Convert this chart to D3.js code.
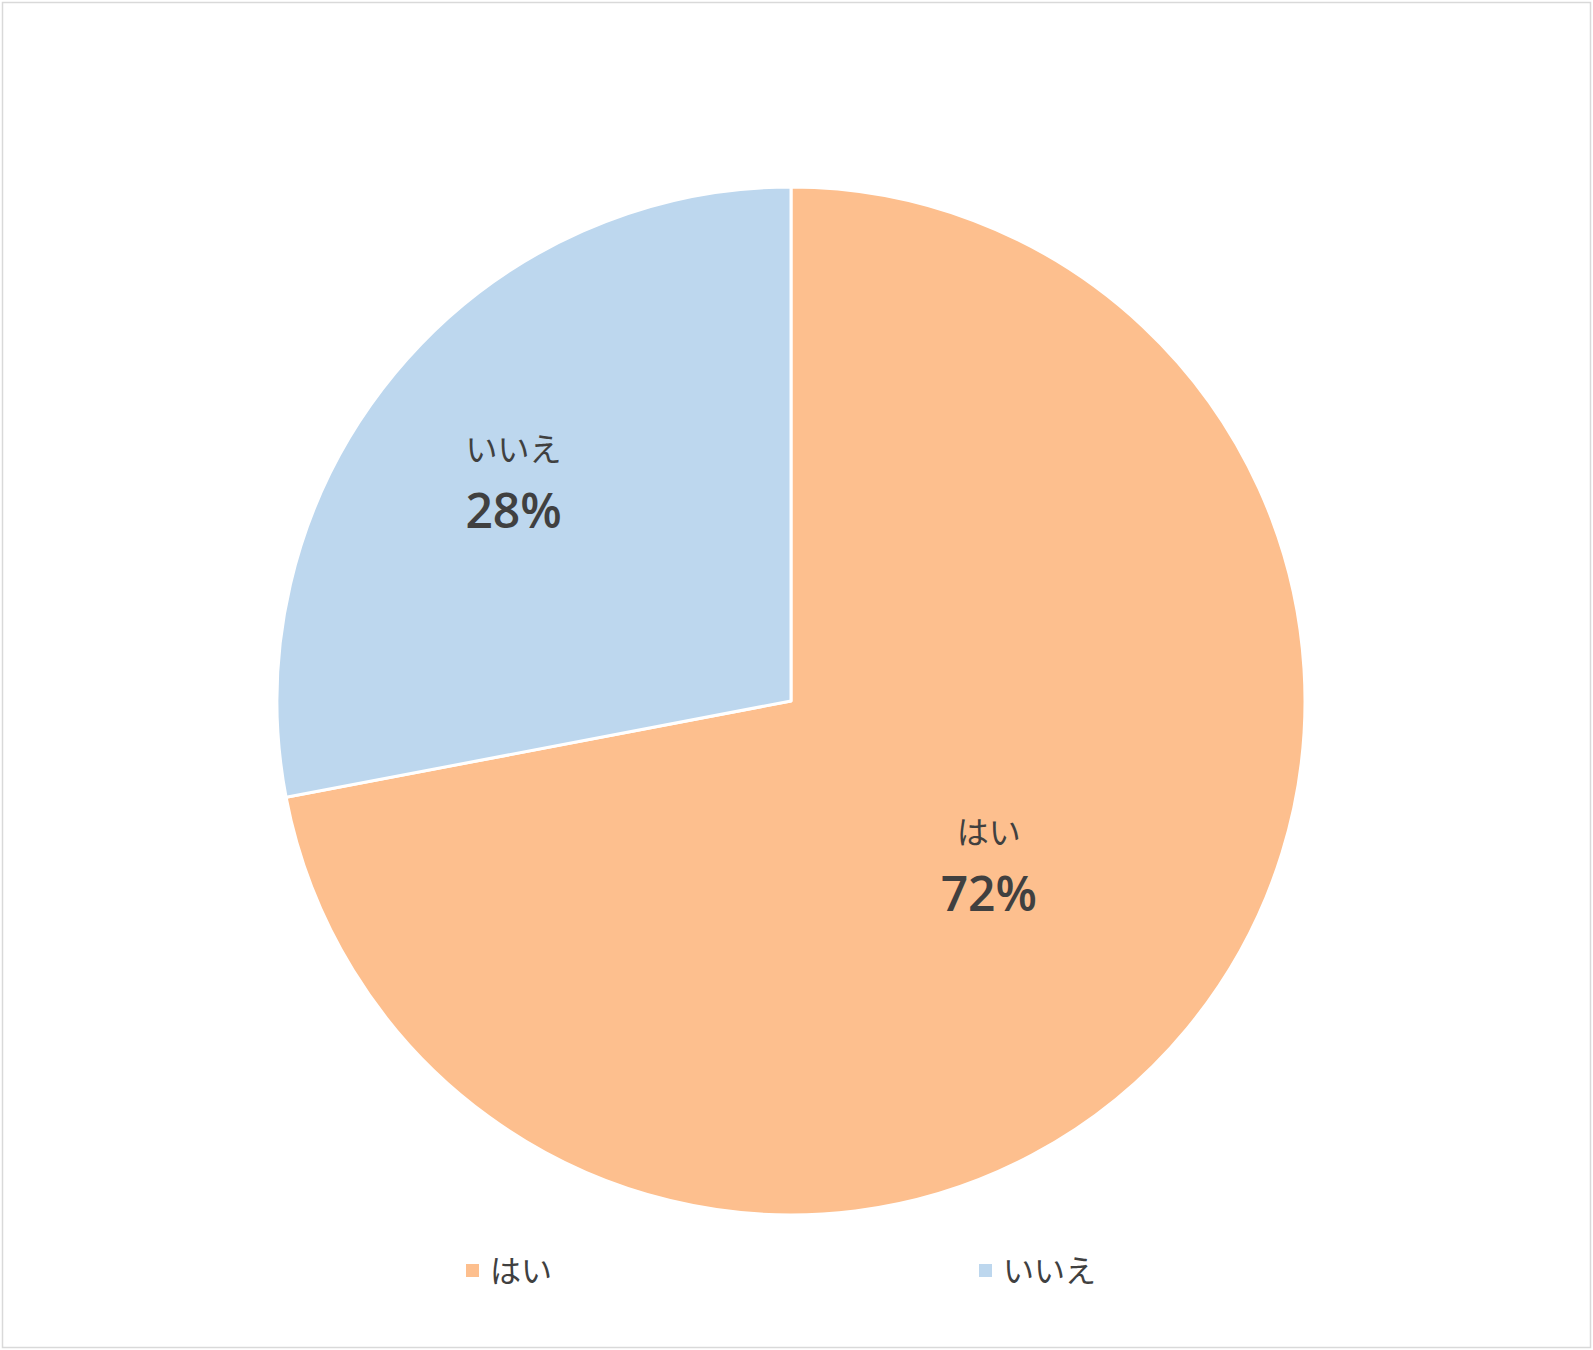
<!DOCTYPE html>
<html><head><meta charset="utf-8">
<script src="https://cdn.jsdelivr.net/npm/d3@7"></script>
<style>body{margin:0;background:#fff}svg{display:block}</style>
</head><body>
<script>
const categories = ["はい", "いいえ"];
const values = [72, 28];
const colors = ["#FDBF8E", "#BDD7EE"];

const W = 1593, H = 1350;
const svg = d3.select("body").append("svg").attr("width", W).attr("height", H);
svg.append("rect").attr("x", 2.5).attr("y", 2.5).attr("width", W - 5).attr("height", H - 5)
  .attr("fill", "#fff").attr("stroke", "#d9d9d9").attr("stroke-width", 1.5);

const cx = 791, cy = 701, r = 514;
const data = categories.map((c, i) => ({ c, v: values[i], col: colors[i] }));
const pie = d3.pie().value(d => d.v).sort(null);
const arcs = pie(data);
const arc = d3.arc().innerRadius(0).outerRadius(r);
const g = svg.append("g").attr("transform", `translate(${cx},${cy})`);
g.selectAll("path").data(arcs).join("path")
  .attr("d", arc).attr("fill", d => d.data.col)
  .attr("stroke", "#fff").attr("stroke-width", 3).attr("stroke-linejoin", "round");

const labelRX = [0.502, 0.698];
const labelRY = [0.485, 0.684];
const font = "'Open Sans','Noto Sans CJK JP',sans-serif";
arcs.forEach((a, i) => {
  const m = (a.startAngle + a.endAngle) / 2;
  const x = Math.sin(m) * labelRX[i] * r, y = -Math.cos(m) * labelRY[i] * r;
  g.append("text").attr("x", x - 1).attr("y", y - 30).attr("text-anchor", "middle")
    .attr("dominant-baseline", "central")
    .attr("font-family", "'Noto Sans CJK JP',sans-serif").attr("font-size", 32)
    .attr("fill", "#404040").text(a.data.c);
  g.append("text").attr("x", x - 1).attr("y", y + 33).attr("text-anchor", "middle")
    .attr("dominant-baseline", "central")
    .attr("font-family", font).attr("font-size", 48).attr("font-weight", 600)
    .attr("fill", "#404040").text(d3.format(".0%")(a.data.v / d3.sum(values)));
});

const legendX = [466, 979];
const lg = svg.append("g");
data.forEach((d, i) => {
  lg.append("rect").attr("x", legendX[i]).attr("y", 1264).attr("width", 13).attr("height", 13).attr("fill", d.col);
  lg.append("text").attr("x", legendX[i] + 24).attr("y", 1268).attr("dominant-baseline", "central")
    .attr("font-family", "'Noto Sans CJK JP',sans-serif").attr("font-size", 31)
    .attr("fill", "#404040").text(d.c);
});
</script>
</body></html>
